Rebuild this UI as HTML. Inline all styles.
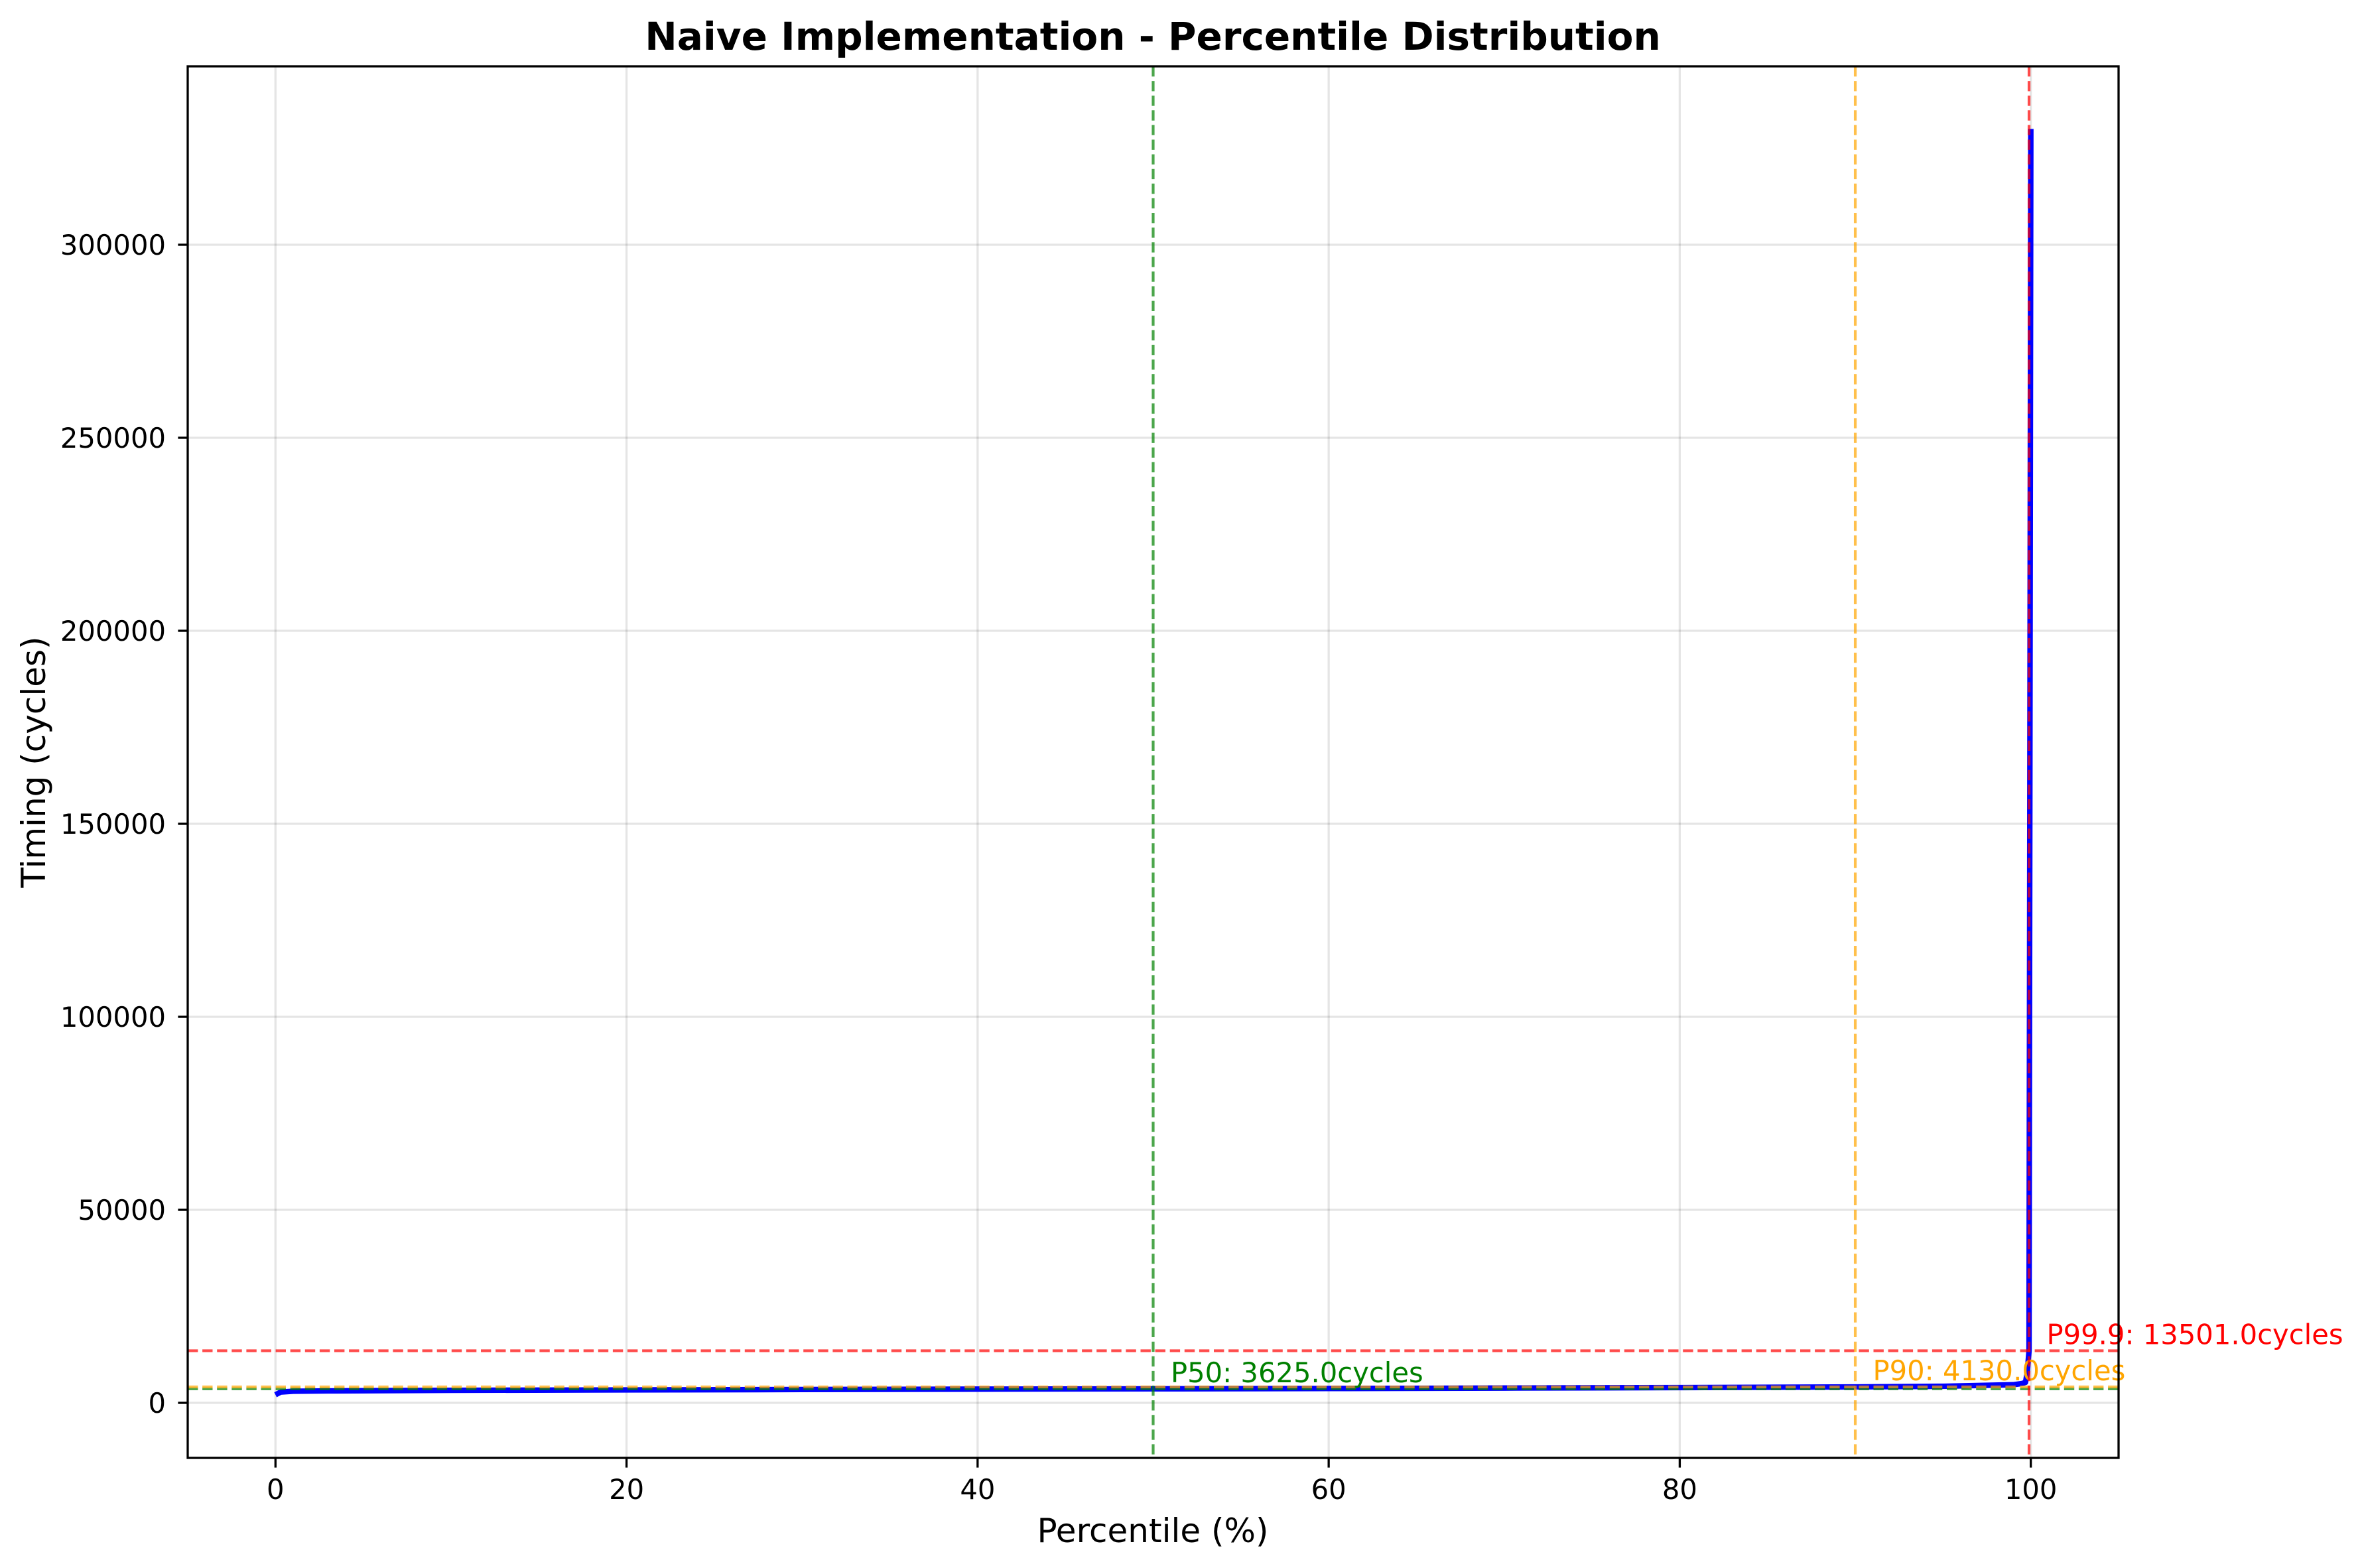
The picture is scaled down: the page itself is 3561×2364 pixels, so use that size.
<!DOCTYPE html>
<html><head><meta charset="utf-8">
<style>
html,body{margin:0;padding:0;background:#fff;}
svg{display:block;font-family:"DejaVu Sans","Liberation Sans",sans-serif;}
</style></head>
<body>
<svg id="chart" width="3561" height="2364" viewBox="0 0 3561 2364" xmlns="http://www.w3.org/2000/svg">
<rect width="3561" height="2364" fill="#fff"/>
<g id="grid"></g>
<g id="series"></g>
<g id="refs"></g>
<g id="axes"></g>
<text x="1738" y="75" text-anchor="middle" font-size="58" font-weight="bold">Naive Implementation - Percentile Distribution</text>
<text x="1738" y="2325" text-anchor="middle" font-size="50">Percentile (%)</text>
<text transform="translate(68,1149) rotate(-90)" text-anchor="middle" font-size="50">Timing (cycles)</text>
</svg>
<script>
const xTicks = [0, 20, 40, 60, 80, 100];
const yTicks = [0, 50000, 100000, 150000, 200000, 250000, 300000];
const curveX = [0, 0.3, 1, 3, 10, 20, 30, 40, 50, 60, 70, 80, 90, 95, 99, 99.5, 99.7, 99.8, 99.9, 100];
const curveY = [2100, 2800, 3000, 3100, 3250, 3350, 3450, 3550, 3625, 3720, 3830, 3960, 4130, 4300, 4700, 5000, 5300, 8000, 13501, 330000];
const pctNames = ["P50", "P90", "P99.9"];
const pctX = [50, 90, 99.9];
const pctY = [3625.0, 4130.0, 13501.0];
const pctColors = ["green", "orange", "red"];

const L = 283, R = 3194, T = 100, B = 2198;
const xMin = -5, xMax = 105, yMin = -14260, yMax = 346220;
const xs = v => L + (v - xMin) / (xMax - xMin) * (R - L);
const ys = v => B - (v - yMin) / (yMax - yMin) * (B - T);
const NS = "http://www.w3.org/2000/svg";
function mk(tag, attrs, parent) {
  const e = document.createElementNS(NS, tag);
  for (const k in attrs) e.setAttribute(k, attrs[k]);
  parent.appendChild(e);
  return e;
}
const grid = document.getElementById('grid');
const refs = document.getElementById('refs');
const series = document.getElementById('series');
const axes = document.getElementById('axes');

xTicks.forEach(t => {
  const g = mk('line', {x1: xs(t), x2: xs(t), y1: T, y2: B, stroke: '#000', 'stroke-opacity': 0.1, 'stroke-width': 3.3}, grid);
  
  
  const tk = mk('line', {x1: xs(t), x2: xs(t), y1: B, y2: B + 14.6, stroke: '#000', 'stroke-width': 3.3}, axes);
  
  
  const lb = mk('text', {x: xs(t), y: 2260, 'text-anchor': 'middle', 'font-size': 41.7}, axes);
  lb.textContent = t;
  
  
});
yTicks.forEach(t => {
  const g = mk('line', {x1: L, x2: R, y1: ys(t), y2: ys(t), stroke: '#000', 'stroke-opacity': 0.1, 'stroke-width': 3.3}, grid);
  
  
  const tk = mk('line', {x1: L - 14.6, x2: L, y1: ys(t), y2: ys(t), stroke: '#000', 'stroke-width': 3.3}, axes);
  
  
  const lb = mk('text', {x: 250, y: ys(t) + 15, 'text-anchor': 'end', 'font-size': 41.7}, axes);
  lb.textContent = t;
  
  
});

// curve
let d = '';
curveX.forEach((x, i) => { d += (i ? 'L' : 'M') + xs(x).toFixed(1) + ',' + ys(curveY[i]).toFixed(1); });
const path = mk('path', {d: d, fill: 'none', stroke: 'blue', 'stroke-width': 8.3, 'stroke-linejoin': 'round'}, series);



// horizontal reference lines (drawn over curve)
pctY.forEach((v, i) => {
  const h = mk('line', {x1: L, x2: R, y1: ys(v), y2: ys(v), stroke: pctColors[i], 'stroke-opacity': 0.7, 'stroke-width': 4.2, 'stroke-dasharray': '15.4 6.7'}, refs);
  
  
});

// vertical reference lines + labels
pctX.forEach((p, i) => {
  const v = mk('line', {x1: xs(p), x2: xs(p), y1: T, y2: B, stroke: pctColors[i], 'stroke-opacity': 0.7, 'stroke-width': 4.2, 'stroke-dasharray': '15.4 6.7'}, refs);
  
  
  const lb = mk('text', {x: xs(p + 1), y: ys(pctY[i]) - 10, fill: pctColors[i], 'font-size': 41.7}, refs);
  lb.textContent = pctNames[i] + ': ' + pctY[i].toFixed(1) + 'cycles';
  
  
});

const frame = mk('rect', {x: L, y: T, width: R - L, height: B - T, fill: 'none', stroke: '#000', 'stroke-width': 3.3}, axes);


</script>
</body></html>
